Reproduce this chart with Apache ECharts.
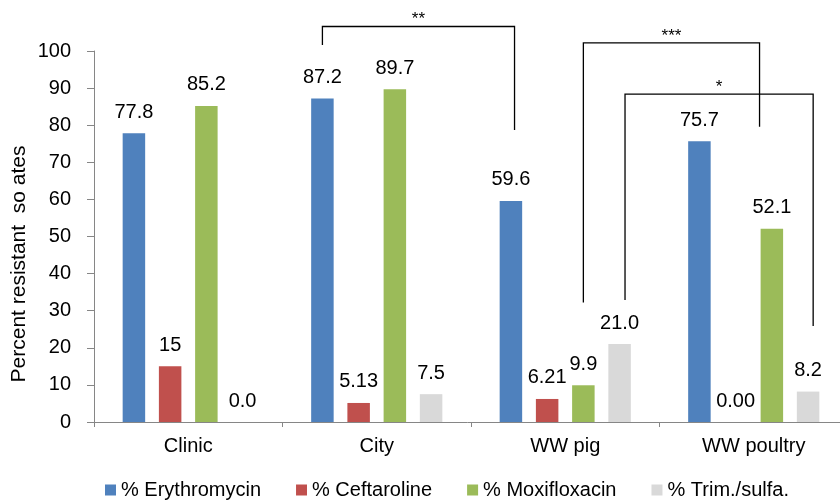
<!DOCTYPE html>
<html>
<head>
<meta charset="utf-8">
<script src="https://cdn.jsdelivr.net/npm/echarts@6/dist/echarts.min.js"></script>
<style>html,body{margin:0;padding:0;background:#fff}#c{width:840px;height:501px}</style>
</head>
<body>
<div id="c"></div>
<script>
var categories = ['Clinic', 'City', 'WW pig', 'WW poultry'];
var seriesNames = ['% Erythromycin', '% Ceftaroline', '% Moxifloxacin', '% Trim./sulfa.'];
var erythromycin = [77.8, 87.2, 59.6, 75.7];
var ceftaroline = [15, 5.13, 6.21, 0.00];
var moxifloxacin = [85.2, 89.7, 9.9, 52.1];
var trimSulfa = [0.0, 7.5, 21.0, 8.2];
var erythromycinLabels = ['77.8', '87.2', '59.6', '75.7'];
var ceftarolineLabels = ['15', '5.13', '6.21', '0.00'];
var moxifloxacinLabels = ['85.2', '89.7', '9.9', '52.1'];
var trimSulfaLabels = ['0.0', '7.5', '21.0', '8.2'];
var yTicks = [0, 10, 20, 30, 40, 50, 60, 70, 80, 90, 100];
// significance brackets: [fromCategory, fromSlot, fromBottom, toCategory, toSlot, toBottom, top, text]
var brackets = [
  [1, 0, 101.6, 2, 0.1, 78.7, 106.6, '**'],
  [2, 2, 32.2, 3, 1.66, 79.6, 102.2, '***'],
  [2, 3.15, 32.9, 3, 3.14, 25.9, 88.4, '*']
];

var colors = ['#4F81BD', '#C0504D', '#9BBB59', '#D9D9D9'];
var BAR_W = 22.5, BAR_GAP = 0.61;
var values = [erythromycin, ceftaroline, moxifloxacin, trimSulfa];
var labels = [erythromycinLabels, ceftarolineLabels, moxifloxacinLabels, trimSulfaLabels];
var font = 'Liberation Sans, Arial, sans-serif';

var series = seriesNames.map(function (n, i) {
  return {
    name: n, type: 'bar', data: values[i], barWidth: BAR_W, barGap: (BAR_GAP * 100) + '%',
    itemStyle: { color: colors[i] },
    label: {
      show: true, position: 'top', distance: 11, color: '#000', fontSize: 20, fontFamily: font,
      formatter: (function (arr) { return function (p) { return arr[p.dataIndex]; }; })(labels[i])
    },
    silent: true
  };
});

series.push({
  type: 'custom', silent: true, z: 10,
  data: brackets,
  encode: { x: 0, y: 6 },
  renderItem: function (params, api) {
    var step = BAR_W * (1 + BAR_GAP);
    function px(cat, slot, v) {
      var c = api.coord([cat, v]);
      return [c[0] + (slot - 1.5) * step, c[1]];
    }
    var a = px(api.value(0), api.value(1), api.value(2));
    var b = px(api.value(0), api.value(1), api.value(6));
    var c = px(api.value(3), api.value(4), api.value(6));
    var d = px(api.value(3), api.value(4), api.value(5));
    var txt = brackets[params.dataIndex][7];
    return {
      type: 'group',
      children: [
        { type: 'polyline', shape: { points: [a, b, c, d] }, style: { stroke: '#000', lineWidth: 1.3, fill: null } },
        { type: 'text', x: (b[0] + c[0]) / 2, y: b[1] - 7,
          style: { text: txt, fill: '#000', font: '17px ' + font, align: 'center', verticalAlign: 'middle' } }
      ]
    };
  }
});

var chart = echarts.init(document.getElementById('c'), null, { renderer: 'canvas' });
chart.setOption({
  animation: false,
  backgroundColor: '#fff',
  grid: { left: 94, top: 51, width: 754, height: 371, outerBoundsMode: 'none' },
  legend: {
    data: seriesNames, left: 100, top: 475, icon: 'rect', itemWidth: 11, itemHeight: 11, itemGap: 35,
    textStyle: { fontSize: 20, color: '#000', fontFamily: font }, selectedMode: false
  },
  xAxis: {
    type: 'category', data: categories,
    axisLine: { lineStyle: { color: '#868686', width: 1 } },
    axisTick: { show: true, length: 5, lineStyle: { color: '#868686' } },
    axisLabel: { color: '#000', fontSize: 20, fontFamily: font, margin: 14 }
  },
  yAxis: {
    type: 'value', min: yTicks[0], max: yTicks[yTicks.length - 1], interval: yTicks[1] - yTicks[0],
    splitLine: { show: false },
    axisLine: { show: true, lineStyle: { color: '#868686', width: 1 } },
    axisTick: { show: true, length: 7, lineStyle: { color: '#868686' } },
    axisLabel: { color: '#000', fontSize: 20, fontFamily: font, margin: 23 }
  },
  graphic: [{
    type: 'text', x: 19, y: 264, rotation: Math.PI / 2,
    style: { text: 'Percent resistant  so ates', fill: '#000', font: '21px ' + font, align: 'center', verticalAlign: 'middle' }
  }],
  series: series
});
</script>
</body>
</html>
